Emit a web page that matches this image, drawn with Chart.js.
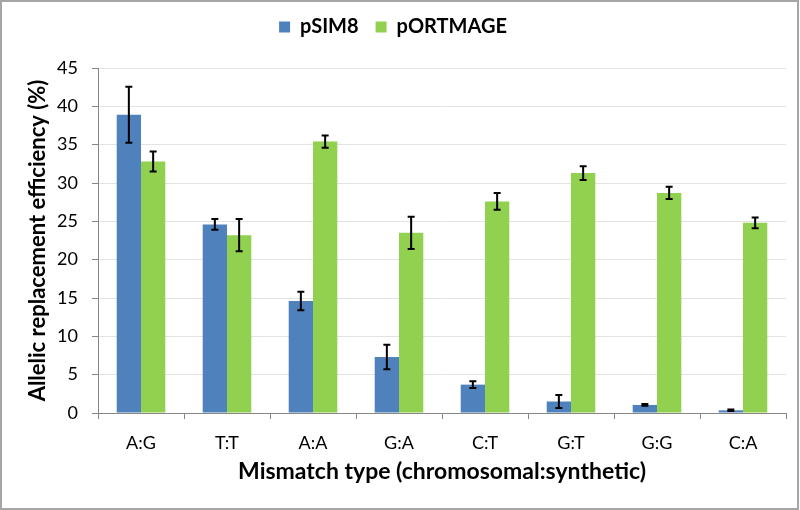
<!DOCTYPE html>
<html>
<head>
<meta charset="utf-8">
<script src="https://cdn.jsdelivr.net/npm/chart.js@4/dist/chart.umd.min.js"></script>
<style>
  html, body { margin: 0; padding: 0; background: #fff; }
  #wrap { position: relative; width: 800px; height: 510px; }
</style>
</head>
<body>
<div id="wrap"><canvas id="chartMismatch" width="800" height="510"></canvas></div>
<script>
/* ===== Allelic replacement by mismatch type ===== */
const categories = ['A:G', 'T:T', 'A:A', 'G:A', 'C:T', 'G:T', 'G:G', 'C:A'];
const seriesNames = ['pSIM8', 'pORTMAGE'];
const psim8Values = [38.9, 24.6, 14.6, 7.3, 3.7, 1.5, 1.05, 0.35];
const psim8Errors = [3.65, 0.7, 1.2, 1.6, 0.45, 0.85, 0.12, 0.1];
const portmageValues = [32.8, 23.2, 35.4, 23.5, 27.6, 31.3, 28.7, 24.8];
const portmageErrors = [1.3, 2.1, 0.8, 2.1, 1.1, 0.9, 0.8, 0.7];
const yTicks = [0, 5, 10, 15, 20, 25, 30, 35, 40, 45];

const BLUE = '#4f81bd';
const GREEN = '#92d050';
const AXIS_GREY = '#868686';
const FONT = 'Lato, "Open Sans", sans-serif';

// draws the error bars through the y scale
const errorBars = {
  id: 'errorBars',
  afterDatasetsDraw(chart) {
    const ctx = chart.ctx;
    const y = chart.scales.y;
    ctx.save();
    ctx.strokeStyle = '#000';
    ctx.lineWidth = 2;
    chart.data.datasets.forEach((ds, i) => {
      const meta = chart.getDatasetMeta(i);
      meta.data.forEach((bar, j) => {
        const v = ds.data[j];
        const e = ds.errors[j];
        const top = y.getPixelForValue(v + e);
        const bot = y.getPixelForValue(v - e);
        ctx.beginPath();
        ctx.moveTo(bar.x, top); ctx.lineTo(bar.x, bot);
        ctx.moveTo(bar.x - 3.5, top); ctx.lineTo(bar.x + 3.5, top);
        ctx.moveTo(bar.x - 3.5, bot); ctx.lineTo(bar.x + 3.5, bot);
        ctx.stroke();
      });
    });
    ctx.restore();
  }
};

// keep the legend band a fixed height so the plot starts where the figure's does
const legendBand = {
  id: 'legendBand',
  beforeInit(chart) {
    const fit = chart.legend.fit;
    chart.legend.fit = function () {
      fit.call(this);
      this.height = 68;
    };
  }
};

// outer frame like the exported figure
const frame = {
  id: 'frame',
  afterDraw(chart) {
    const ctx = chart.ctx;
    ctx.save();
    ctx.strokeStyle = '#a6a6a6';
    ctx.lineWidth = 2;
    ctx.strokeRect(1, 1, chart.width - 3, chart.height - 2);
    ctx.restore();
  }
};

new Chart(document.getElementById('chartMismatch'), {
  type: 'bar',
  data: {
    labels: categories,
    datasets: [
      { label: seriesNames[0], data: psim8Values, errors: psim8Errors, backgroundColor: BLUE },
      { label: seriesNames[1], data: portmageValues, errors: portmageErrors, backgroundColor: GREEN }
    ]
  },
  options: {
    responsive: false,
    animation: false,
    devicePixelRatio: 1,
    layout: { padding: { top: 0, right: 14, left: 0, bottom: 0 } },
    datasets: { bar: { barPercentage: 1, categoryPercentage: 0.565 } },
    plugins: {
      legend: {
        position: 'top',
        labels: {
          color: '#000',
          boxWidth: 11,
          boxHeight: 11,
          padding: 17,
          font: { family: FONT, size: 20, weight: 'bold' }
        }
      },
      tooltip: { enabled: false }
    },
    scales: {
      x: {
        grid: {
          offset: true,
          drawOnChartArea: false,
          color: AXIS_GREY,
          tickLength: 6
        },
        border: { color: AXIS_GREY },
        ticks: { color: '#000', padding: 13, font: { family: FONT, size: 18 } },
        title: {
          display: true,
          text: 'Mismatch type (chromosomal:synthetic)',
          color: '#000',
          padding: { top: 0, bottom: 25 },
          font: { family: FONT, size: 23, weight: 'bold' }
        },
        afterFit(scale) { scale.height = 97; }
      },
      y: {
        min: 0,
        max: 45,
        afterBuildTicks(scale) { scale.ticks = yTicks.map(v => ({ value: v })); },
        grid: { color: '#e3e3e3', tickColor: AXIS_GREY, tickLength: 6 },
        border: { color: AXIS_GREY },
        ticks: { color: '#000', padding: 14, font: { family: FONT, size: 18 } },
        title: {
          display: true,
          text: 'Allelic replacement efficiency (%)',
          color: '#000',
          padding: { top: 25, bottom: 0 },
          font: { family: FONT, size: 22, weight: 'bold' }
        },
        afterFit(scale) { scale.width = 98; }
      }
    }
  },
  plugins: [errorBars, legendBand, frame]
});
</script>
</body>
</html>
